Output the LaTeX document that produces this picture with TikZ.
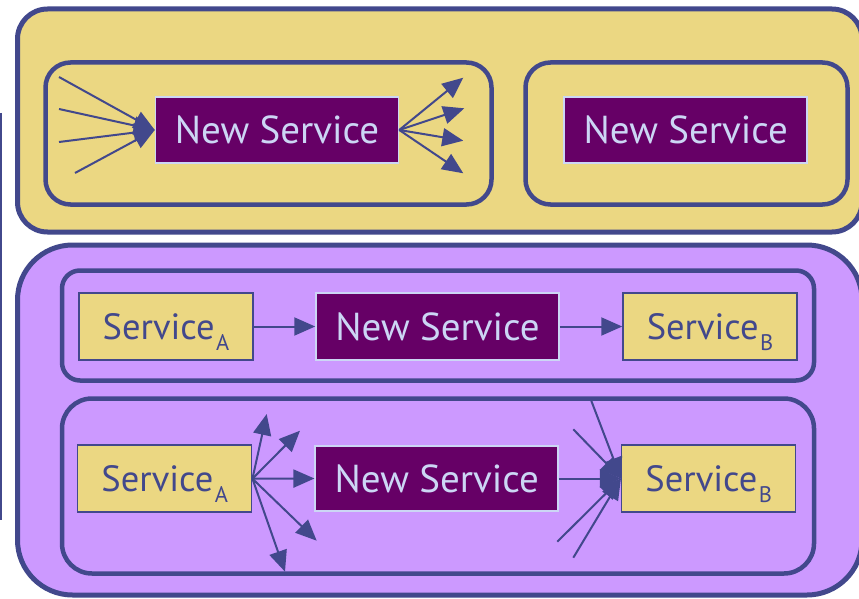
\documentclass[tikz,border=0pt]{standalone}
\usepackage{fontspec}
\setmainfont{PT Sans}
\usetikzlibrary{arrows.meta}

\definecolor{bord}{RGB}{66,72,140}
\definecolor{sand}{RGB}{235,215,130}
\definecolor{lilac}{RGB}{204,153,255}
\definecolor{plum}{RGB}{102,0,102}
\definecolor{lav}{RGB}{204,214,245}

\newcommand{\svcname}[1]{Service\kern1.5pt\raisebox{-10.5pt}{\fontsize{22.5}{22.5}\selectfont #1}}

\tikzset{
  panel/.style={draw=bord, line width=5pt},
  frame/.style={draw=bord, line width=4.5pt},
  nsbox/.style={draw=lav, fill=plum, text=lav, line width=1.5pt,
    minimum width=243pt, minimum height=66pt, inner sep=0pt,
    text height=27.3pt, text depth=0pt, font=\fontsize{39}{39}\selectfont},
  svbox/.style={draw=bord, fill=sand, text=bord, line width=1.5pt,
    minimum width=174pt, minimum height=67pt, inner sep=0pt,
    text height=26pt, text depth=0pt, font=\fontsize{36.5}{36.5}\selectfont},
  conn/.style={draw=bord, line width=2pt, -{Triangle[length=21pt,width=18pt]}}
}

\begin{document}
\begin{tikzpicture}[x=1pt, y=-1pt]
\useasboundingbox (0,0) rectangle (859,599);

% sliver of a neighbouring shape at the left edge
\draw[bord, line width=1.6pt] (0.8,113) -- (0.8,520);

% outer panels
\draw[panel, fill=sand, rounded corners=30pt] (17.5,9) rectangle (862,232);
\draw[panel, fill=lilac, rounded corners=55pt] (17.5,245) rectangle (862,595);

% inner frames
\draw[frame, rounded corners=25pt] (45.5,62.5) rectangle (491.5,204.5);
\draw[frame, rounded corners=25pt] (525.5,62.5) rectangle (847.5,204.5);
\draw[frame, rounded corners=18pt] (62,270.5) rectangle (814,380.5);
\draw[frame, rounded corners=30pt] (62,398.5) rectangle (814,573.5);

% top panel: fan-in / fan-out service and a standalone one
\node[nsbox] (nsa) at (277,130) {New Service};
\node[nsbox] (nsb) at (685.7,130) {New Service};

\coordinate (c1) at (59,77);
\coordinate (c2) at (59,109);
\coordinate (c3) at (59,142);
\coordinate (c4) at (75,173);
\foreach \c in {c1,c2,c3,c4} \draw[conn] (\c) -- (nsa.west);

\coordinate (d1) at (463.3,77.7);
\coordinate (d2) at (464.3,108.3);
\coordinate (d3) at (463.3,140.7);
\coordinate (d4) at (463.3,173.3);
\foreach \d in {d1,d2,d3,d4} \draw[conn] (nsa.east) -- (\d);

% lower panel, first row: simple chain
\node[svbox] (saa) at (166,326.5) {\svcname{A}};
\node[nsbox, minimum height=67pt] (nsc) at (437.5,326.5) {New Service};
\node[svbox] (sba) at (710,326.5) {\svcname{B}};
\draw[conn] (saa.east) -- (nsc.west);
\draw[conn] (nsc.east) -- (sba.west);

% lower panel, second row: chain with extra fan-out and fan-in
\node[svbox] (sab) at (164.7,478.7) {\svcname{A}};
\node[nsbox, minimum height=65pt] (nsd) at (436.7,478.5) {New Service};
\node[svbox] (sbb) at (708.7,478.5) {\svcname{B}};

\coordinate (t1) at (266.7,414);
\coordinate (t2) at (300,430.7);
\coordinate (t4) at (316.7,540.7);
\coordinate (t5) at (285,571.7);
\foreach \t in {t1,t2,t4,t5} \draw[conn] (sab.east) -- (\t);
\draw[conn] (sab.east) -- (nsd.west);

\coordinate (s1) at (591,400);
\coordinate (s2) at (573.3,429.3);
\coordinate (s4) at (557.3,541.7);
\coordinate (s5) at (573.3,557.7);
\foreach \s in {s1,s2,s4,s5} \draw[conn] (\s) -- (sbb.west);
\draw[conn] (nsd.east) -- (sbb.west);
\end{tikzpicture}
\end{document}
